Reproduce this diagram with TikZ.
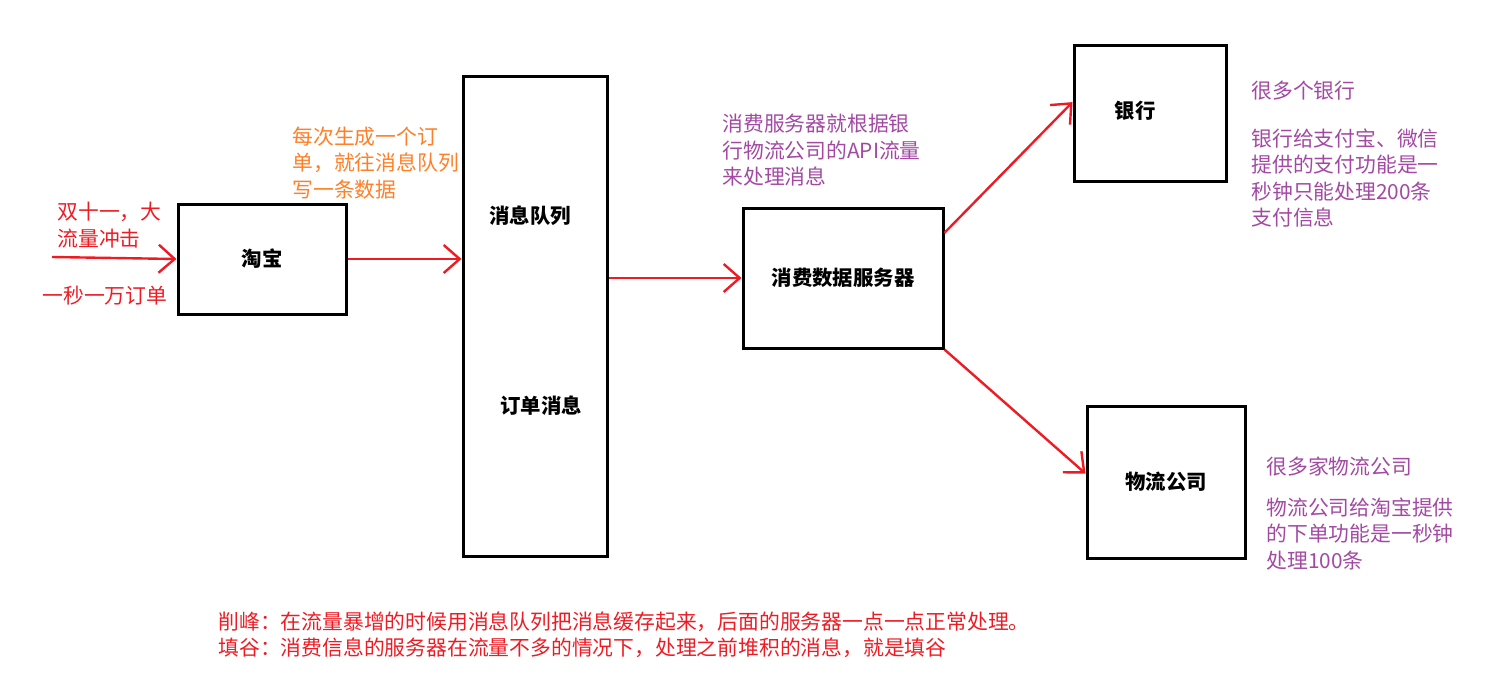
\documentclass[tikz,border=0pt]{standalone}
\usepackage{fontspec}
\setmainfont{Noto Sans CJK SC}
\usetikzlibrary{arrows.meta}
\definecolor{pen}{RGB}{237,28,36}
\definecolor{orangenote}{RGB}{255,127,39}
\definecolor{purplenote}{RGB}{163,73,164}

\begin{document}
\begin{tikzpicture}[x=0.5pt, y=-0.5pt, >={Straight Barb[length=8pt, width=14pt]},
	box/.style={draw, line width=1.5pt, inner sep=0pt, font=\fontsize{10.2}{13.3}\selectfont\bfseries},
	lbl/.style={inner sep=0pt, font=\fontsize{10.2}{13.3}\selectfont\bfseries},
	note/.style={anchor=north west, align=left, inner sep=0pt, font=\fontsize{10.4}{13.25}\selectfont},
	arr/.style={->, pen, line width=1.2pt}]
			\useasboundingbox (0,0) rectangle (1503,675);
			% boxes
			\node[box, minimum width=84pt, minimum height=55pt] (taobao) at (262,259) {淘宝};
			\node[box, minimum width=72pt, minimum height=240pt] (queue) at (535,316) {};
			\node[lbl] (queuetop) at (530,216) {消息队列};
			\node[lbl] (queuebot) at (541,406) {订单消息};
			\node[box, minimum width=100pt, minimum height=70pt] (server) at (843,278) {消费数据服务器};
			\node[box, minimum width=76pt, minimum height=68pt] (bank) at (1150,113) {};
			\node[lbl] (banktext) at (1135,111) {银行};
			\node[box, minimum width=79pt, minimum height=76pt] (logistics) at (1166,482) {物流公司};
			% notes
			\node[note, pen] (peak) at (57,202) {双十一，大\\流量冲击};
			\node[note, pen] (rate) at (42,286) {一秒一万订单};
			\node[note, orangenote] (write) at (292,126) {每次生成一个订\\单，就往消息队列\\写一条数据};
			\node[note, purplenote] (consume) at (722,114) {消费服务器就根据银\\行物流公司的API流量\\来处理消息};
			\node[note, purplenote] (manybank) at (1251,81) {很多个银行};
			\node[note, purplenote] (banklimit) at (1251,128) {银行给支付宝、微信\\提供的支付功能是一\\秒钟只能处理200条\\支付信息};
			\node[note, purplenote] (manylog) at (1266,456) {很多家物流公司};
			\node[note, purplenote] (loglimit) at (1266,497) {物流公司给淘宝提供\\的下单功能是一秒钟\\处理100条};
			\node[note, pen] (summary) at (218,611) {削峰：在流量暴增的时候用消息队列把消息缓存起来，后面的服务器一点一点正常处理。\\填谷：消费信息的服务器在流量不多的情况下，处理之前堆积的消息，就是填谷};
			% arrows
			\coordinate (src) at (52,257);
			\draw[arr] (src) -- (taobao.west);
			\draw[arr] (taobao.east) -- (taobao.east -| queue.west);
			\draw[arr] (queue.east |- server.west) -- (server.west);
			\draw[arr] (server.24) -- (bank.172);
			\draw[arr] (server.south east) -- (logistics.174);
\end{tikzpicture}
\end{document}
